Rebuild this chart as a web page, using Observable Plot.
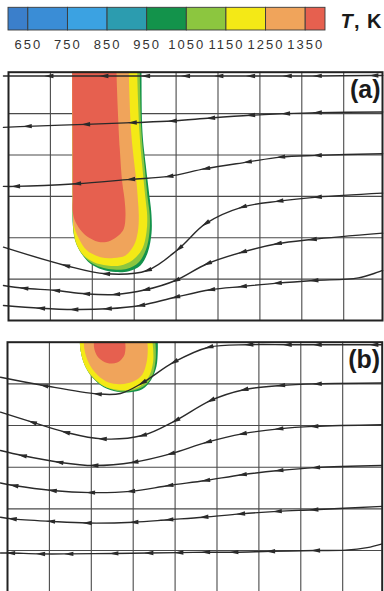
<!DOCTYPE html>
<html>
<head>
<meta charset="utf-8">
<script src="https://cdn.jsdelivr.net/npm/d3@7"></script>
<script src="https://cdn.jsdelivr.net/npm/@observablehq/plot@0.6"></script>
<style>
  html, body { margin: 0; padding: 0; background: #fff; overflow: hidden; }
  #chart { width: 384px; }
  #chart svg { display: block; }
  #legend .ticks text { letter-spacing: 2px; }
  #legend .unit text { letter-spacing: 1px; }
</style>
</head>
<body>
<div id="chart"></div>
<script>
// ---- colour key: temperature bands (K) ----
const bandEdges  = [600, 650, 750, 850, 950, 1050, 1150, 1250, 1350, 1400];
const bandColors = ["#3b7fcb", "#3a8dd6", "#3ba2e2", "#2c9caf", "#13934b", "#8cc63f", "#f4e916", "#f0a45b", "#e6604f"];
const keyTicks   = [650, 750, 850, 950, 1050, 1150, 1250, 1350];
const unitLabel  = ["T", ", K"];
const panelLabels = ["(a)", "(b)"];

// ---- mesh lines (cell units) ----
const gridX = [1, 2, 3, 4, 5, 6, 7, 8];
const gridY = [1, 2, 3, 4, 5];

// ---- isotherm outlines, panel (a): [x, y]; the hot zone hangs from the top wall ----
const isoA950 = [[1.52,6.6],[1.52,6.0],[1.525,5.0],[1.53,4.0],[1.533,3.0],[1.535,2.30],[1.599,1.93],[1.742,1.62],[1.957,1.37],[2.236,1.23],[2.554,1.17],[2.871,1.19],[3.150,1.33],[3.325,1.65],[3.413,2.10],[3.413,2.54],[3.372,2.94],[3.277,3.75],[3.198,4.55],[3.174,6.0],[3.174,6.6]];
const isoA1050 = [[1.52,6.6],[1.52,6.0],[1.525,5.0],[1.53,4.0],[1.533,3.0],[1.535,2.46],[1.575,1.98],[1.718,1.65],[1.957,1.41],[2.196,1.29],[2.513,1.23],[2.833,1.25],[3.110,1.41],[3.286,1.73],[3.365,2.14],[3.372,2.54],[3.325,2.94],[3.246,3.75],[3.174,4.55],[3.134,6.0],[3.134,6.6]];
const isoA1150 = [[1.52,6.6],[1.52,6.0],[1.525,5.0],[1.53,4.0],[1.533,3.0],[1.535,2.62],[1.559,2.14],[1.640,1.81],[1.797,1.57],[2.036,1.41],[2.356,1.33],[2.673,1.33],[2.952,1.45],[3.191,1.73],[3.294,2.14],[3.310,2.54],[3.270,2.94],[3.191,3.75],[3.126,4.55],[3.072,6.0],[3.072,6.6]];
const isoA1250 = [[1.52,6.6],[1.52,6.0],[1.525,5.0],[1.53,4.0],[1.533,3.0],[1.535,2.62],[1.559,2.30],[1.678,1.98],[1.876,1.69],[2.196,1.53],[2.513,1.51],[2.792,1.57],[2.990,1.81],[3.086,2.14],[3.110,2.54],[3.086,2.94],[3.055,3.34],[3.007,3.75],[2.928,4.55],[2.871,6.0],[2.871,6.6]];
const isoA1350 = [[1.52,6.6],[1.52,6.0],[1.525,5.0],[1.53,4.0],[1.533,3.0],[1.535,2.62],[1.599,2.38],[1.759,2.14],[1.957,1.98],[2.196,1.89],[2.434,1.93],[2.632,2.06],[2.752,2.22],[2.792,2.54],[2.768,2.94],[2.714,3.34],[2.656,4.15],[2.578,6.0],[2.578,6.6]];

// ---- isotherm outlines, panel (b) ----
const isoB950 = [[1.726,6.5],[1.726,6.1],[1.742,5.82],[1.838,5.46],[2.021,5.16],[2.298,4.92],[2.618,4.81],[2.936,4.80],[3.215,4.87],[3.430,5.10],[3.556,5.42],[3.587,5.78],[3.587,6.1],[3.587,6.5]];
const isoB1050 = [[1.726,6.5],[1.726,6.1],[1.742,5.82],[1.838,5.46],[2.021,5.16],[2.298,4.94],[2.618,4.83],[2.936,4.83],[3.253,4.94],[3.453,5.19],[3.532,5.54],[3.540,5.82],[3.525,6.1],[3.525,6.5]];
const isoB1150 = [[1.726,6.5],[1.726,6.1],[1.742,5.82],[1.838,5.46],[2.021,5.18],[2.298,4.95],[2.618,4.86],[2.936,4.86],[3.215,4.98],[3.396,5.22],[3.477,5.54],[3.477,5.82],[3.453,6.1],[3.453,6.5]];
const isoB1250 = [[1.821,6.5],[1.821,6.1],[1.838,5.82],[1.940,5.50],[2.141,5.22],[2.418,5.03],[2.697,4.99],[3.014,5.06],[3.215,5.22],[3.317,5.50],[3.348,5.82],[3.334,6.1],[3.334,6.5]];
const isoB1350 = [[2.060,6.5],[2.060,6.1],[2.076,5.82],[2.179,5.62],[2.379,5.50],[2.618,5.51],[2.776,5.66],[2.816,5.86],[2.800,6.1],[2.800,6.5]];

// ---- streamlines, panel (a): [x, y, arrowhead?], ordered left to right; flow runs right to left ----
const lineA1 = [[-0.12,5.91,0],[0.962,5.91,1],[2.274,5.91,1],[3.270,5.91,1],[4.224,5.91,1],[5.019,5.91,1],[5.776,5.91,1],[6.652,5.91,1],[7.368,5.91,1],[8.718,5.92,1],[8.93,5.92,0]];
const lineA2 = [[-0.12,4.667,0],[0.446,4.692,1],[1.838,4.740,1],[2.952,4.781,1],[3.907,4.820,1],[4.821,4.892,1],[5.776,4.958,1],[6.611,4.999,1],[7.368,5.023,1],[8.93,5.037,0]];
const lineA3 = [[-0.12,3.241,0],[0.167,3.241,1],[1.623,3.306,1],[2.912,3.410,1],[3.826,3.482,1],[4.702,3.669,1],[5.697,3.828,1],[6.492,3.949,1],[7.368,3.990,1],[8.93,4.031,0]];
const lineA4 = [[-0.12,1.773,0],[1.360,1.330,1],[2.315,1.129,1],[3.310,1.209,1],[4.064,1.734,1],[4.702,2.339,1],[5.578,2.740,1],[6.451,2.885,1],[7.368,2.982,1],[8.93,3.079,0]];
const lineA5 = [[-0.12,0.846,0],[0.365,0.781,1],[1.122,0.726,1],[1.838,0.646,1],[2.554,0.629,1],[3.270,0.742,1],[3.986,0.967,1],[4.742,1.371,1],[5.578,1.652,1],[6.413,1.855,1],[7.248,1.959,1],[8.93,2.111,0]];
const lineA6 = [[-0.12,0.363,0],[0.764,0.297,1],[1.558,0.266,1],[2.356,0.283,1],[3.150,0.363,1],[3.986,0.563,1],[4.821,0.742,1],[5.578,0.822,1],[6.413,0.902,1],[7.286,0.967,1],[8.35,1.03,0],[8.93,1.209,0]];

// ---- streamlines, panel (b) ----
const lineB1 = [[-0.167,5.16,0],[0.866,4.96,1],[2.141,4.76,1],[2.697,4.77,0],[3.215,5.02,1],[3.969,5.52,1],[4.804,5.88,1],[5.759,5.94,1],[6.675,5.94,1],[7.391,5.94,1],[8.742,5.94,1],[8.943,5.94,0]];
const lineB2 = [[-0.167,4.32,0],[0.590,4.08,1],[1.384,3.84,1],[2.260,3.68,1],[3.215,3.76,1],[4.010,4.12,1],[4.845,4.60,1],[5.640,4.86,1],[6.516,4.96,1],[7.391,5.00,1],[8.943,5.02,0]];
const lineB3 = [[-0.167,3.40,0],[0.351,3.28,1],[1.224,3.12,1],[2.060,3.04,1],[3.014,3.12,1],[3.890,3.32,1],[4.766,3.60,1],[5.601,3.80,1],[6.475,3.92,1],[7.310,3.98,1],[8.943,4.02,0]];
const lineB4 = [[-0.167,2.62,0],[0.150,2.56,1],[1.067,2.44,1],[1.981,2.39,1],[2.936,2.42,1],[3.850,2.56,1],[4.726,2.68,1],[5.601,2.82,1],[6.475,2.92,1],[7.351,2.99,1],[8.943,3.04,0]];
const lineB5 = [[-0.167,1.80,0],[0.112,1.76,1],[1.026,1.70,1],[1.902,1.66,1],[3.014,1.68,1],[3.850,1.74,1],[4.685,1.80,1],[5.561,1.88,1],[6.437,1.94,1],[7.310,1.98,1],[8.943,2.06,0]];
const lineB6 = [[-0.167,0.94,0],[0.072,0.94,1],[0.788,0.92,1],[1.463,0.92,1],[2.537,0.93,1],[3.372,0.94,1],[4.088,0.95,1],[4.726,0.96,1],[5.401,0.96,1],[6.277,0.98,1],[7.351,1.00,1],[8.067,1.01,0],[8.585,1.07,0],[8.943,1.16,0]];

// ---- shared styling ----
const ink = "#2a2a2a";
const tempScale = {type: "threshold", domain: keyTicks, range: bandColors};

// Narrow filled arrowhead pointing "up" before rotation
const arrowHead = {
  draw(context, size) {
    const r = Math.sqrt(size / Math.PI);
    context.moveTo(0, -r);
    context.lineTo(0.48 * r, r);
    context.lineTo(-0.48 * r, r);
    context.closePath();
  }
};

function isoRows(list) {
  return list.flatMap(([level, pts]) => pts.map(([x, y]) => ({level, x, y})));
}

function streamRows(lines) {
  return lines.flatMap((pts, id) => pts.map(([x, y, a], i) => {
    let angle = 0;
    if (a) {
      const prev = pts[i - 1], next = pts[i + 1];
      angle = Math.atan2(prev[0] - next[0], prev[1] - next[1]) * 180 / Math.PI;
    }
    return {id, x, y, arrow: !!a, angle};
  }));
}

function panel({isos, lines, label, xMax, height, marginLeft, marginRight, marginTop, marginBottom}) {
  const rows = streamRows(lines);
  return Plot.plot({
    width: 384, height, marginLeft, marginRight, marginTop, marginBottom,
    x: {domain: [0, xMax], axis: null},
    y: {domain: [0, 6], axis: null},
    color: tempScale,
    style: {background: "#fff", overflow: "visible"},
    marks: [
      Plot.ruleX(gridX, {stroke: "#4a4a4a", strokeWidth: 1.1}),
      Plot.ruleY(gridY, {stroke: "#4a4a4a", strokeWidth: 1.1}),
      Plot.line(isoRows(isos), {x: "x", y: "y", z: "level", fill: "level", stroke: "none", curve: "catmull-rom-closed", clip: true}),
      Plot.line(rows, {x: "x", y: "y", z: "id", stroke: ink, strokeWidth: 1.4, curve: "catmull-rom"}),
      Plot.dot(rows.filter(d => d.arrow), {x: "x", y: "y", rotate: "angle", symbol: arrowHead, r: 4.6, fill: ink, stroke: "none"}),
      Plot.frame({stroke: "#222", strokeWidth: 2}),
      Plot.text([label], {text: d => d, frameAnchor: "top-right", textAnchor: "end", lineAnchor: "middle", dx: -2, dy: 17.8,
        fontSize: 25, fontWeight: "bold", fontFamily: "Liberation Sans, Arial, sans-serif", fill: "#1a1a1a"})
    ]
  });
}

// ---- colour key ----
const cells = bandEdges.slice(0, -1).map((lo, i) => ({lo, hi: bandEdges[i + 1]}));
const legend = Plot.plot({
  width: 384, height: 62,
  marginLeft: 8, marginRight: 59, marginTop: 7.3, marginBottom: 32,
  x: {domain: [600, 1400], label: null},
  color: tempScale,
  style: {background: "#fff", overflow: "visible", fontFamily: "Liberation Sans, Arial, sans-serif"},
  marks: [
    Plot.rect(cells, {x1: "lo", x2: "hi", fill: "lo", stroke: "#3a3a3a", strokeWidth: 0.9}),
    Plot.axisX(keyTicks, {tickSize: 0, tickPadding: 9, fontSize: 13, fill: "#333", label: null, tickFormat: d => String(d), className: "ticks"}),
    Plot.text([unitLabel[0]], {text: d => d, frameAnchor: "right", textAnchor: "start", lineAnchor: "middle", dx: 15, dy: 2.3,
      fontSize: 20, fontWeight: "bold", fontStyle: "italic", fill: "#1a1a1a", className: "unit"}),
    Plot.text([unitLabel[1]], {text: d => d, frameAnchor: "right", textAnchor: "start", lineAnchor: "middle", dx: 28.5, dy: 2.3,
      fontSize: 20, fontWeight: "bold", fill: "#1a1a1a", className: "unit"})
  ]
});
legend.id = "legend";

const panelA = panel({
  isos: [[950, isoA950], [1050, isoA1050], [1150, isoA1150], [1250, isoA1250], [1350, isoA1350]],
  lines: [lineA1, lineA2, lineA3, lineA4, lineA5, lineA6],
  label: panelLabels[0], xMax: 8.926,
  height: 270, marginLeft: 8, marginRight: 2, marginTop: 9.7, marginBottom: 12
});

const panelB = panel({
  isos: [[950, isoB950], [1050, isoB1050], [1150, isoB1150], [1250, isoB1250], [1350, isoB1350]],
  lines: [lineB1, lineB2, lineB3, lineB4, lineB5, lineB6],
  label: panelLabels[1], xMax: 8.943,
  height: 261, marginLeft: 7, marginRight: 2.3, marginTop: 9.7, marginBottom: 1.3
});

const root = document.getElementById("chart");
root.append(legend, panelA, panelB);
</script>
</body>
</html>
